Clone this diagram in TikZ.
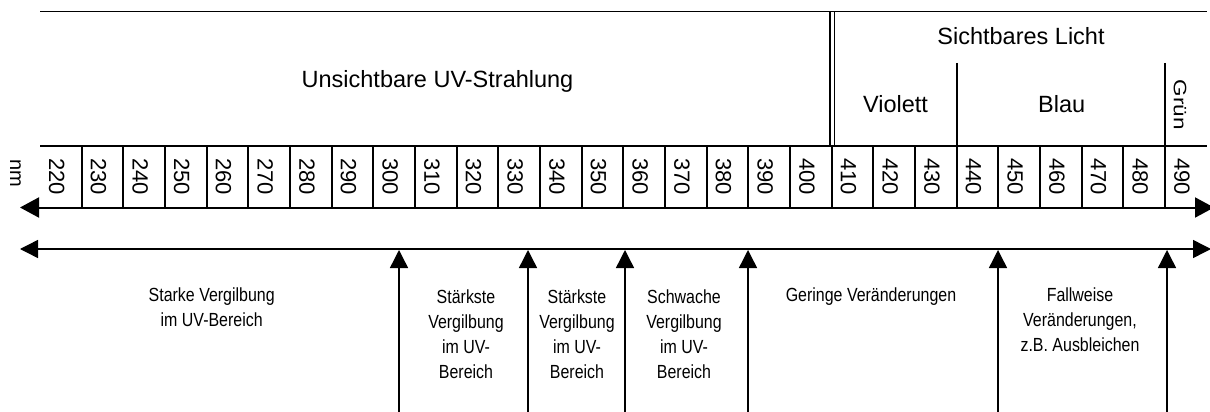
\documentclass[tikz,border=0pt]{standalone}
\usepackage{fontspec}
\setmainfont{Liberation Sans}
\newfontfamily\narrowfont[FakeStretch=0.84]{Liberation Sans}
\usetikzlibrary{arrows.meta}
\begin{document}
\begin{tikzpicture}[x=1pt,y=-1pt,
  frame/.style={line width=1.5pt},
  divider/.style={line width=2.1pt},
  axisline/.style={line width=2pt,{Triangle[length=19pt,width=20pt]}-{Triangle[length=19pt,width=20pt]}},
  rangeline/.style={line width=1.4pt,{Triangle[length=18pt,width=18pt]}-{Triangle[length=18pt,width=18pt]}},
  marker/.style={line width=1.4pt,-{Triangle[length=18pt,width=18pt]}},
  head/.style={font=\fontsize{23.5}{28}\selectfont, inner sep=0pt, anchor=base},
  tick/.style={font=\fontsize{22}{26}\selectfont, rotate=-90, inner sep=0pt},
  note/.style={font=\narrowfont\fontsize{19}{25}\selectfont, align=center, inner sep=0pt, anchor=north}]
\useasboundingbox (0,0) rectangle (1210,412);
% frame of the scale
\draw[frame] (40,11.5) -- (1207,11.5);
\draw[divider] (40,146) -- (1207,146);
\draw[frame] (830,11.5) -- (830,146);
\draw[frame] (834.5,11.5) -- (834.5,146);
\draw[divider] (956.7,63) -- (956.7,146);
\draw[divider] (1165,63) -- (1165,146);
% cells
\foreach \k in {1,...,27} \draw[divider] (40+41.67*\k,146) -- (40+41.67*\k,209);
\foreach \v [count=\k from 0] in {220,230,...,490}
  \node[tick] (t\v) at (40+41.67*\k+16.8,176.5) {\v};
% header texts
\node[head] (uv) at (437.5,88) {Unsichtbare UV-Strahlung};
\node[head] (licht) at (1021,45) {Sichtbares Licht};
\node[head] (violett) at (895.5,112) {Violett};
\node[head] (blau) at (1061.7,112) {Blau};
\node[rotate=-90, inner sep=0pt, font=\fontsize{22.5}{26}\selectfont] (gruen) at (1180,105) {\scalebox{1}[0.8]{Grün}};
\node[rotate=-90, inner sep=0pt, font=\fontsize{20}{24}\selectfont] (nm) at (15.5,173.5) {nm};
% axes
\coordinate (axL) at (20,207.5);
\coordinate (axR) at (1214,207.5);
\draw[axisline] (axL) -- (axR);
\coordinate (rgL) at (20,249);
\coordinate (rgR) at (1211,249);
\draw[rangeline] (rgL) -- (rgR);
\foreach \x [count=\i] in {399,528,625,748,998,1167} {
  \coordinate (mb\i) at (\x,414);
  \coordinate (mt\i) at (\x,250);
  \draw[marker] (mb\i) -- (mt\i);
}
% notes
\node[note] (nA) at (211.7,287.8) {Starke Vergilbung\\im UV-Bereich};
\node[note] (nB) at (466,289.1) {Stärkste\\Vergilbung\\im UV-\\Bereich};
\node[note] (nC) at (577,289.1) {Stärkste\\Vergilbung\\im UV-\\Bereich};
\node[note] (nD) at (684,289.1) {Schwache\\Vergilbung\\im UV-\\Bereich};
\node[note] (nE) at (871,287.8) {Geringe Veränderungen};
\node[note] (nF) at (1080,287.8) {Fallweise\\Veränderungen,\\z.B. Ausbleichen};
\end{tikzpicture}
\end{document}
